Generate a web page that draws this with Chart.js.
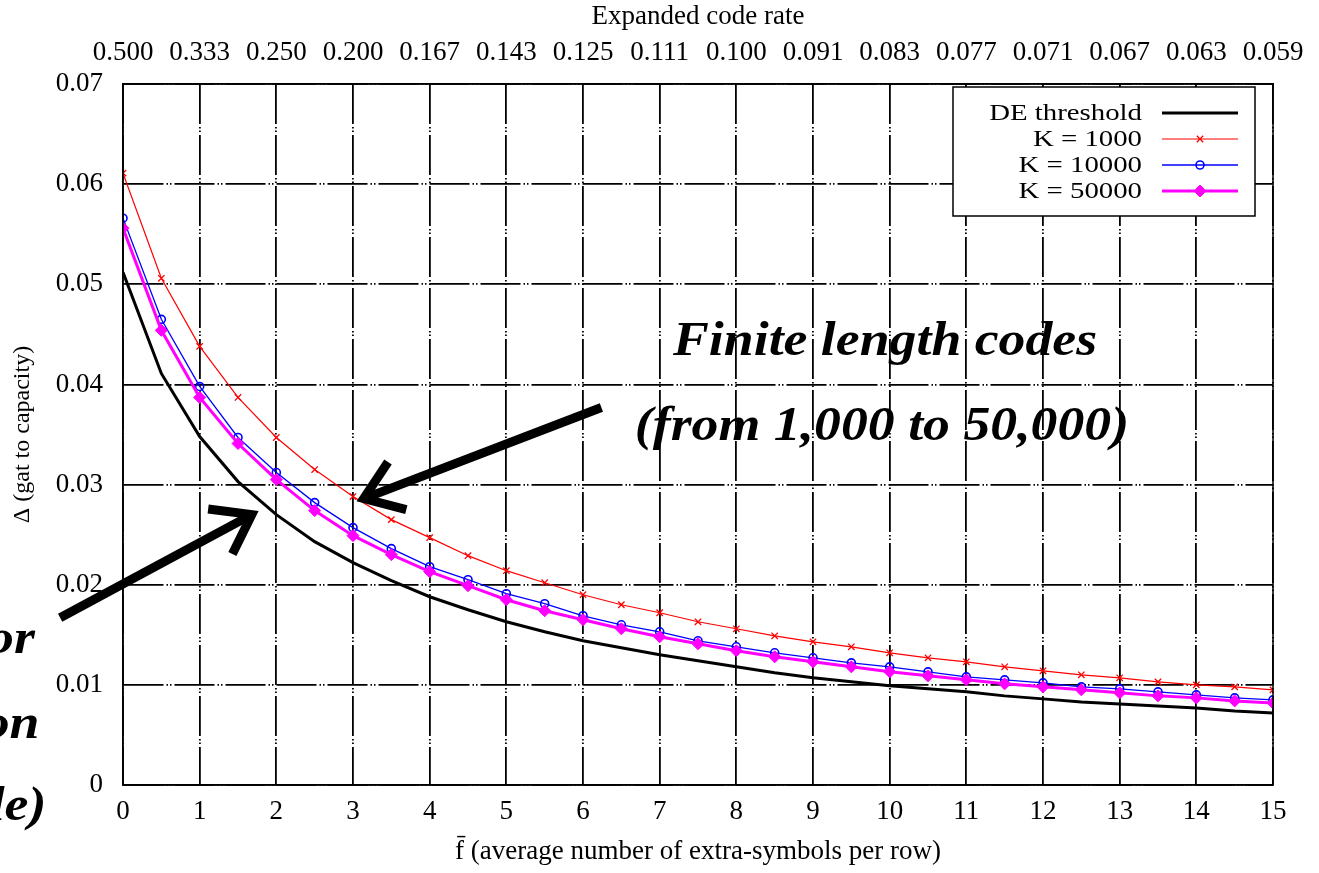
<!DOCTYPE html>
<html lang="en">
<head>
  <meta charset="UTF-8" />
  <title>Gap to capacity vs extra symbols per row</title>
  <style>
    html, body { margin: 0; padding: 0; background: #fff; }
    #wrap { width: 1319px; height: 873px; }
  </style>
  <script src="https://cdn.jsdelivr.net/npm/chart.js"></script>
</head>
<body>
  <div id="wrap"><canvas id="gapChart" width="1319" height="873"></canvas></div>

  <script>
    // f values (average number of extra-symbols per row)
    const fValues = [0, 0.5, 1, 1.5, 2, 2.5, 3, 3.5, 4, 4.5, 5, 5.5, 6, 6.5, 7, 7.5,
                     8, 8.5, 9, 9.5, 10, 10.5, 11, 11.5, 12, 12.5, 13, 13.5, 14, 14.5, 15];

    const deThreshold = [0.0512, 0.0411, 0.0348, 0.0303, 0.0270, 0.0243, 0.0222, 0.0204,
                         0.0188, 0.0175, 0.0163, 0.0153, 0.0144, 0.0137, 0.0130, 0.0124,
                         0.0118, 0.0112, 0.0107, 0.0103, 0.0099, 0.0096, 0.0093, 0.0089,
                         0.0086, 0.0083, 0.0081, 0.0079, 0.0077, 0.0074, 0.0072];

    const k1000 = [0.0611, 0.0506, 0.0438, 0.0387, 0.0347, 0.0315, 0.0288, 0.0265,
                   0.0247, 0.0229, 0.0214, 0.0202, 0.0190, 0.0180, 0.0172, 0.0163,
                   0.0156, 0.0149, 0.0143, 0.0138, 0.0132, 0.0127, 0.0123, 0.0118,
                   0.0114, 0.0110, 0.0107, 0.0103, 0.0100, 0.0098, 0.0095];

    const k10000 = [0.0566, 0.0465, 0.0398, 0.0347, 0.0312, 0.0282, 0.0257, 0.0236,
                    0.0218, 0.0205, 0.0191, 0.0181, 0.0169, 0.0160, 0.0153, 0.0144,
                    0.0138, 0.0132, 0.0127, 0.0122, 0.0118, 0.0113, 0.0108, 0.0105,
                    0.0102, 0.0098, 0.0096, 0.0093, 0.0090, 0.0087, 0.0085];

    const k50000 = [0.0556, 0.0454, 0.0387, 0.0341, 0.0305, 0.0274, 0.0249, 0.0230,
                    0.0213, 0.0199, 0.0185, 0.0174, 0.0165, 0.0156, 0.0148, 0.0141,
                    0.0134, 0.0128, 0.0123, 0.0118, 0.0113, 0.0109, 0.0105, 0.0101,
                    0.0098, 0.0095, 0.0092, 0.0089, 0.0087, 0.0084, 0.0082];

    // tick labels
    const bottomTicks = ["0", "1", "2", "3", "4", "5", "6", "7", "8", "9", "10", "11", "12", "13", "14", "15"];
    const rateTicks = ["0.500", "0.333", "0.250", "0.200", "0.167", "0.143", "0.125", "0.111",
                       "0.100", "0.091", "0.083", "0.077", "0.071", "0.067", "0.063", "0.059"];
    const yTicks = ["0", "0.01", "0.02", "0.03", "0.04", "0.05", "0.06", "0.07"];

    const serif = "'Liberation Serif', 'DejaVu Serif', serif";

    function pts(ys) {
      return fValues.map((f, i) => ({ x: f, y: ys[i] }));
    }

    // text a bit wider than tall, like the original image
    function wideText(ctx, txt, x, y, sx) {
      ctx.save();
      ctx.translate(x, y);
      ctx.scale(sx, 1);
      ctx.fillText(txt, 0, 0);
      ctx.restore();
    }

    // legend drawn gnuplot style: text right, sample on the right side
    const legendBox = {
      id: "legendBox",
      afterDraw(chart) {
        const ctx = chart.ctx;
        ctx.save();
        ctx.fillStyle = "#fff";
        ctx.fillRect(953, 87, 302, 129);
        ctx.strokeStyle = "#000";
        ctx.lineWidth = 1.5;
        ctx.strokeRect(953, 87, 302, 129);
        ctx.font = "24px " + serif;
        ctx.textAlign = "right";
        ctx.textBaseline = "middle";
        chart.data.datasets.forEach((ds, i) => {
          const y = 113 + i * 26;
          ctx.fillStyle = "#000";
          wideText(ctx, ds.label, 1142, y + 1, 1.2);
          ctx.strokeStyle = ds.borderColor;
          ctx.lineWidth = ds.borderWidth;
          ctx.beginPath();
          ctx.moveTo(1162, y);
          ctx.lineTo(1238, y);
          ctx.stroke();
          if (ds.pointRadius > 0) {
            ctx.fillStyle = ds.pointBackgroundColor;
            ctx.strokeStyle = ds.borderColor;
            ctx.lineWidth = ds.pointBorderWidth;
            Chart.helpers.drawPoint(ctx, {
              pointStyle: ds.pointStyle, radius: ds.pointRadius, rotation: 0,
              borderWidth: ds.pointBorderWidth
            }, 1200, y);
          }
        });
        ctx.restore();
      }
    };

    // frame + annotations
    const notes = {
      id: "notes",
      afterDraw(chart) {
        const { ctx, chartArea: a } = chart;
        const xs = chart.scales.x, ys = chart.scales.y;
        const px = (f) => xs.getPixelForValue(f);
        const py = (v) => ys.getPixelForValue(v);
        ctx.save();
        ctx.strokeStyle = "#000";
        ctx.lineWidth = 1.5;
        ctx.strokeRect(a.left, a.top, a.right - a.left, a.bottom - a.top);

        function arrow(f1, v1, f2, v2) {
          const x1 = px(f1), y1 = py(v1), x2 = px(f2), y2 = py(v2);
          const ang = Math.atan2(y2 - y1, x2 - x1);
          const len = 44, spread = 0.62;
          ctx.lineWidth = 9;
          ctx.lineCap = "butt";
          ctx.lineJoin = "miter";
          ctx.beginPath();
          ctx.moveTo(x1, y1);
          ctx.lineTo(x2, y2);
          ctx.stroke();
          ctx.beginPath();
          ctx.moveTo(x2 - len * Math.cos(ang - spread), y2 - len * Math.sin(ang - spread));
          ctx.lineTo(x2, y2);
          ctx.lineTo(x2 - len * Math.cos(ang + spread), y2 - len * Math.sin(ang + spread));
          ctx.stroke();
        }
        arrow(6.24, 0.0377, 3.14, 0.0286);
        arrow(-0.82, 0.0167, 1.68, 0.0270);

        ctx.fillStyle = "#000";
        ctx.font = "italic bold 48px " + serif;
        ctx.textAlign = "center";
        ctx.textBaseline = "alphabetic";
        wideText(ctx, "Finite length codes", px(9.94), py(0.0429), 1.12);
        wideText(ctx, "(from 1,000 to 50,000)", px(9.90), py(0.0345), 1.12);
        ctx.textAlign = "right";
        wideText(ctx, "or", px(-1.15), py(0.0132), 1.12);
        wideText(ctx, "on", px(-1.09), py(0.0047), 1.12);
        wideText(ctx, "le)", px(-1.00), py(-0.0035), 1.12);
        ctx.restore();
      }
    };

    const gridDash = [40, 3, 1.5, 2, 1.5, 3];

    new Chart(document.getElementById("gapChart"), {
      type: "line",
      data: {
        datasets: [
          {
            label: "DE threshold",
            data: pts(deThreshold),
            borderColor: "#000",
            borderWidth: 3,
            pointRadius: 0,
            order: 4
          },
          {
            label: "K = 1000",
            data: pts(k1000),
            borderColor: "#ff0000",
            borderWidth: 1.2,
            pointStyle: "crossRot",
            pointRadius: 4.5,
            pointBorderWidth: 1.3,
            pointBackgroundColor: "#ff0000",
            order: 3
          },
          {
            label: "K = 10000",
            data: pts(k10000),
            borderColor: "#0000ff",
            borderWidth: 1.3,
            pointStyle: "circle",
            pointRadius: 4,
            pointBorderWidth: 1.6,
            pointBackgroundColor: "rgba(255,255,255,0)",
            order: 2
          },
          {
            label: "K = 50000",
            data: pts(k50000),
            borderColor: "#ff00ff",
            borderWidth: 3,
            pointStyle: "rectRot",
            pointRadius: 6,
            pointBorderWidth: 1,
            pointBackgroundColor: "#ff00ff",
            order: 1
          }
        ]
      },
      options: {
        responsive: false,
        animation: false,
        layout: { padding: { left: 0, right: 46, top: 0, bottom: 0 } },
        plugins: {
          legend: { display: false },
          tooltip: { enabled: false }
        },
        elements: { line: { tension: 0 } },
        scales: {
          x: {
            type: "linear",
            position: "bottom",
            min: 0,
            max: 15,
            afterFit: (s) => { s.height = 88; },
            afterBuildTicks: (s) => { s.ticks = bottomTicks.map((t, i) => ({ value: i })); },
            ticks: {
              color: "#000",
              padding: 11,
              maxRotation: 0,
              font: { family: serif, size: 27 },
              callback: (v, i) => bottomTicks[i]
            },
            grid: { color: "#000", lineWidth: 1.8, drawTicks: false },
            border: { display: true, color: "#000", width: 1.5, dash: gridDash },
            title: {
              display: true,
              text: "f\u0304 (average number of extra-symbols per row)",
              color: "#000",
              font: { family: serif, size: 27 },
              padding: { top: 0, bottom: 5 }
            }
          },
          x2: {
            type: "linear",
            position: "top",
            min: 0,
            max: 15,
            afterFit: (s) => { s.height = 84; },
            afterBuildTicks: (s) => { s.ticks = rateTicks.map((t, i) => ({ value: i })); },
            ticks: {
              color: "#000",
              padding: 15,
              maxRotation: 0,
              font: { family: serif, size: 27 },
              callback: (v, i) => rateTicks[i]
            },
            grid: { display: false, drawTicks: false },
            border: { display: true, color: "#000", width: 1.5 },
            title: {
              display: true,
              text: "Expanded code rate",
              color: "#000",
              font: { family: serif, size: 27 },
              padding: { top: 1, bottom: 0 }
            }
          },
          y: {
            type: "linear",
            min: 0,
            max: 0.07,
            afterFit: (s) => { s.width = 123; },
            afterBuildTicks: (s) => { s.ticks = yTicks.map((t) => ({ value: parseFloat(t) })); },
            ticks: {
              color: "#000",
              padding: 20,
              font: { family: serif, size: 27 },
              callback: (v, i) => yTicks[i]
            },
            grid: { color: "#000", lineWidth: 1.8, drawTicks: false },
            border: { display: true, color: "#000", width: 1.5, dash: gridDash },
            title: {
              display: true,
              text: "\u0394 (gat to capacity)",
              color: "#000",
              font: { family: serif, size: 24 },
              padding: { top: 8, bottom: 0 }
            }
          }
        }
      },
      plugins: [legendBox, notes]
    });
  </script>
</body>
</html>
